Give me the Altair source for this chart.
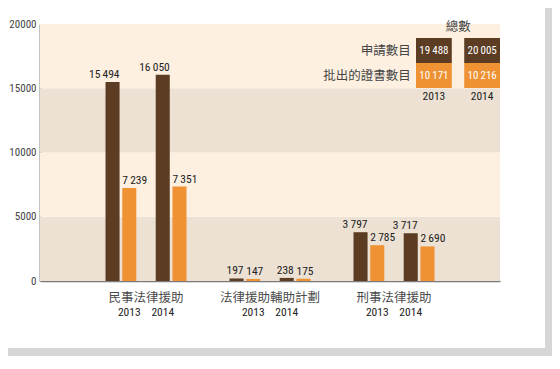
import altair as alt
import pandas as pd

groups = ["民事法律援助", "法律援助輔助計劃", "刑事法律援助"]
years = ["2013", "2014"]
series = ["申請數目", "批出的證書數目"]
# values per group, per year (2013, 2014)
applications = [[15494, 16050], [197, 238], [3797, 3717]]
certificates = [[7239, 7351], [147, 175], [2785, 2690]]
total_applications = [19488, 20005]
total_certificates = [10171, 10216]
y_ticks = [0, 5000, 10000, 15000, 20000]
bands = [(0, 5000, "d"), (5000, 10000, "l"), (10000, 15000, "d"), (15000, 20000, "l")]

BROWN = "#5C3D24"
ORANGE = "#EE9233"
LIGHT = "#FDF0E1"
DARK = "#ECE1D3"
NUM_FONT = "Liberation Sans Narrow, Roboto Condensed, DejaVu Sans Condensed, sans-serif"
CJK_FONT = "Noto Sans CJK TC"

W, H = 460, 257


def fmt(v):
    s = f"{v:,}"
    return s.replace(",", "\u2009")


rows = []
for gi, g in enumerate(groups):
    for yi, yr in enumerate(years):
        for si, s in enumerate(series):
            v = applications[gi][yi] if si == 0 else certificates[gi][yi]
            rows.append({"group": g, "year": yr, "series": s, "slot": f"{yr}|{s}",
                         "value": v, "label": fmt(v)})
df = pd.DataFrame(rows)

slot_domain = ["pad_l", f"2013|{series[0]}", f"2013|{series[1]}", "gap",
               f"2014|{series[0]}", f"2014|{series[1]}", "pad_r"]

x_enc = alt.X("group:N", sort=groups,
              scale=alt.Scale(paddingInner=0, paddingOuter=0.355),
              axis=alt.Axis(title=None, labelAngle=0, ticks=False, domainColor="#7a7a7a",
                            domainWidth=1.5, labelFont=CJK_FONT, labelFontSize=12.5,
                            labelColor="#4a4a4a", labelPadding=10))
xo_enc = alt.XOffset("slot:N", scale=alt.Scale(domain=slot_domain, paddingInner=0.16,
                                                paddingOuter=0.285))
y_scale = alt.Scale(domain=[0, 20000], nice=False)
color_scale = alt.Scale(domain=series, range=[BROWN, ORANGE])

band_df = pd.DataFrame([{"y0": a, "y1": b, "kind": k} for a, b, k in bands])
band_layer = alt.Chart(band_df).mark_rect().encode(
    x=alt.value(0), x2=alt.value(W),
    y=alt.Y("y0:Q", scale=y_scale,
            axis=alt.Axis(title=None, values=y_ticks, format="d", ticks=False, grid=False,
                          domainColor="#8a8a8a", domainWidth=2, labelFont=NUM_FONT,
                          labelFontSize=11, labelColor="#444444", labelPadding=4)),
    y2="y1:Q",
    color=alt.Color("kind:N", scale=alt.Scale(domain=["d", "l"], range=[DARK, LIGHT]), legend=None),
)

bars = alt.Chart(df).mark_bar().encode(
    x=x_enc, xOffset=xo_enc,
    y=alt.Y("value:Q", scale=y_scale),
    fill=alt.Fill("series:N", scale=color_scale, legend=None),
)

lab_app = alt.Chart(df[df.series == series[0]]).mark_text(
    align="right", baseline="bottom", dx=7, dy=-2, font=NUM_FONT, fontSize=11.5, color="#222222"
).encode(x=x_enc, xOffset=xo_enc, y=alt.Y("value:Q", scale=y_scale), text="label:N")

lab_cert = alt.Chart(df[df.series == series[1]]).mark_text(
    align="left", baseline="bottom", dx=-7, dy=-2, font=NUM_FONT, fontSize=11.5, color="#222222"
).encode(x=x_enc, xOffset=xo_enc, y=alt.Y("value:Q", scale=y_scale), text="label:N")

yl_rows = []
for g in groups:
    yl_rows.append({"group": g, "slot": f"2013|{series[1]}", "year": "2013"})
    yl_rows.append({"group": g, "slot": f"2014|{series[0]}", "year": "2014"})
year_labels = alt.Chart(pd.DataFrame(yl_rows)).mark_text(
    baseline="middle", font=NUM_FONT, fontSize=11.5, color="#222222"
).encode(x=x_enc, xOffset=xo_enc, y=alt.value(H + 32), text="year:N")

main = alt.layer(band_layer, bars, lab_app, lab_cert, year_labels)

# totals panel
tot_rows = []
for yi, yr in enumerate(years):
    tot_rows.append({"year": yr, "series": series[0], "value": total_applications[yi],
                     "label": fmt(total_applications[yi])})
    tot_rows.append({"year": yr, "series": series[1], "value": total_certificates[yi],
                     "label": fmt(total_certificates[yi])})
tot_df = pd.DataFrame(tot_rows)

bx = alt.X("year:N", sort=years, axis=None,
           scale=alt.Scale(range=[376, 460], paddingInner=0.258, paddingOuter=0))
by = alt.Y("series:N", sort=series, axis=None,
           scale=alt.Scale(range=[14, 64], paddingInner=0, paddingOuter=0))

boxes = alt.Chart(tot_df).mark_rect().encode(
    x=bx, y=by, fill=alt.Fill("series:N", scale=color_scale, legend=None))
box_text = alt.Chart(tot_df).mark_text(
    font=NUM_FONT, fontSize=11, color="white", baseline="middle"
).encode(x=bx, y=by, text="label:N")
row_labels = alt.Chart(tot_df[tot_df.year == "2013"]).mark_text(
    align="right", baseline="middle", dx=-23, font=CJK_FONT, fontSize=12.5, color="#444444"
).encode(x=bx, y=by, text="series:N")
header = alt.Chart(pd.DataFrame([{"year": "2013", "series": series[0], "t": "總數"}])).mark_text(
    align="center", baseline="middle", dx=24.3, dy=-24, font=CJK_FONT, fontSize=12.5, color="#444444"
).encode(x=bx, y=by, text="t:N")
tot_years = alt.Chart(tot_df[tot_df.series == series[1]]).mark_text(
    baseline="middle", dy=21, font=NUM_FONT, fontSize=11.5, color="#222222"
).encode(x=bx, y=by, text="year:N")

totals = alt.layer(boxes, box_text, row_labels, header, tot_years)

# card shadow (decoration)
shadow_rows = [
    {"x0": 505, "x1": 512, "y0": -16, "y1": 332, "c": "#d6d6d6"},
    {"x0": -32, "x1": 512, "y0": 324, "y1": 332, "c": "#d6d6d6"},
]
shadow = alt.layer(*[
    alt.Chart(pd.DataFrame([{"k": i}])).mark_rect(color=r["c"]).encode(
        x=alt.value(r["x0"]), x2=alt.value(r["x1"]), y=alt.value(r["y0"]), y2=alt.value(r["y1"]))
    for i, r in enumerate(shadow_rows)
])

chart = alt.layer(main, totals, shadow).resolve_scale(
    x="independent", y="independent", fill="independent"
).properties(
    width=W, height=H,
    autosize=alt.AutoSizeParams(type="none"),
    padding={"left": 32, "top": 16, "right": 52, "bottom": 75},
).configure_view(stroke=None)

chart.save("out.html", embed_options={"renderer": "svg", "actions": False})
